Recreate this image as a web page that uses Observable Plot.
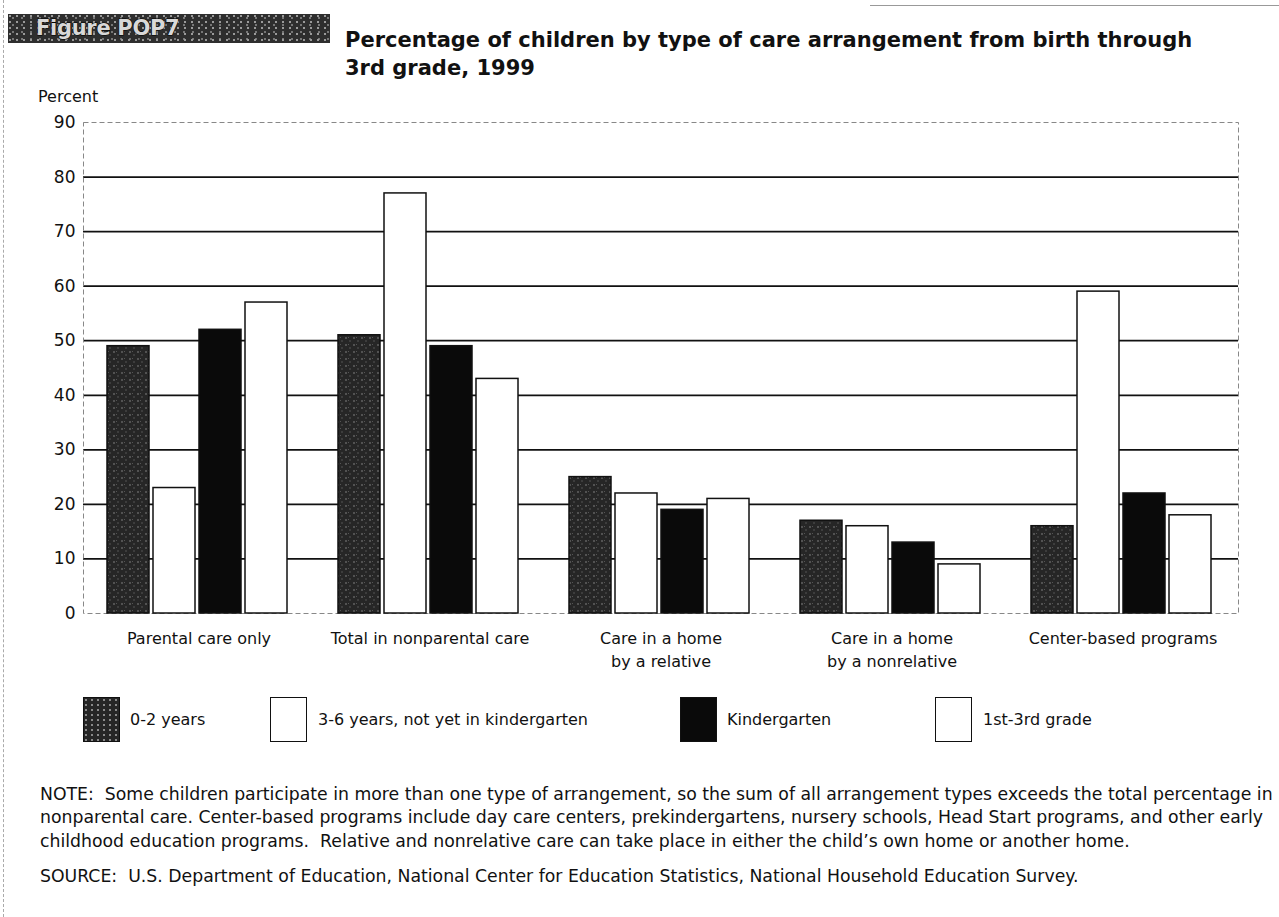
<!DOCTYPE html>
<html>
<head>
<meta charset="utf-8">
<script src="https://cdn.jsdelivr.net/npm/d3@7"></script>
<script src="https://cdn.jsdelivr.net/npm/@observablehq/plot@0.6"></script>
<style>
  body { margin: 0; background: #fff; }
  #wrap { position: relative; width: 1279px; height: 917px; overflow: hidden; font-family: "DejaVu Sans", sans-serif; color: #111; }
  #wrap svg.plot { position: absolute; left: 0; top: 0; }
  .abs { position: absolute; white-space: nowrap; }
  #figbox { left: 8px; top: 14px; width: 322px; height: 29px; background-color: #2e2e2e;
    background-image: radial-gradient(circle at 2px 2px, #9a9a9a 0.8px, transparent 1.3px),
                      radial-gradient(circle at 5px 4px, #777 0.7px, transparent 1.2px);
    background-size: 7px 6px, 9px 7px; }
  #figbox span { position: absolute; left: 28px; top: 2px; font-family: "DejaVu Sans", sans-serif; font-weight: 700; font-size: 21px; line-height: 24px; letter-spacing: -0.3px; color: #d8d8d8;
    -webkit-text-stroke: 1px #000; paint-order: stroke fill; }
  #title { left: 345px; top: 26px; font-family: "DejaVu Sans", sans-serif; font-weight: 700; font-size: 21px; line-height: 28px; }
  #ylab { left: 38px; top: 87px; font-size: 16px; }
  .sw { position: absolute; width: 37px; height: 45px; box-sizing: border-box; border: 1.5px solid #111; }
  .lg { position: absolute; font-size: 16px; line-height: 20px; }
  #note { left: 40px; top: 783px; font-size: 17.3px; line-height: 23.3px; }
  #source { left: 40px; top: 866px; font-size: 17.3px; }
  #edge { left: 3px; top: 0; height: 917px; border-left: 1px dashed #aaa; }
  #topline { left: 870px; top: 5px; width: 409px; border-top: 1px solid #999; }
</style>
</head>
<body>
<div id="wrap">
  <div class="abs" id="edge"></div>
  <div class="abs" id="topline"></div>
  <div class="abs" id="figbox"><span>Figure POP7</span></div>
  <div class="abs" id="title">Percentage of children by type of care arrangement from birth through<br>3rd grade, 1999</div>
  <div class="abs" id="ylab">Percent</div>
  <div id="legend"></div>
  <div class="abs" id="note">NOTE:&nbsp; Some children participate in more than one type of arrangement, so the sum of all arrangement types exceeds the total percentage in<br>nonparental care. Center-based programs include day care centers, prekindergartens, nursery schools, Head Start programs, and other early<br>childhood education programs.&nbsp; Relative and nonrelative care can take place in either the child’s own home or another home.</div>
  <div class="abs" id="source">SOURCE:&nbsp; U.S. Department of Education, National Center for Education Statistics, National Household Education Survey.</div>
</div>
<script>
// ---- Data ----
const categories = [
  "Parental care only",
  "Total in nonparental care",
  "Care in a home by a relative",
  "Care in a home by a nonrelative",
  "Center-based programs"
];
const categoryLabels = [
  "Parental care only",
  "Total in nonparental care",
  "Care in a home\nby a relative",
  "Care in a home\nby a nonrelative",
  "Center-based programs"
];
const groups = ["0-2 years", "3-6 years, not yet in kindergarten", "Kindergarten", "1st-3rd grade"];
const age0to2        = [49, 51, 25, 17, 16];
const age3to6        = [23, 77, 22, 16, 59];
const kindergarten   = [52, 49, 19, 13, 22];
const grade1to3      = [57, 43, 21, 9, 18];
const yTicks = [0, 10, 20, 30, 40, 50, 60, 70, 80, 90];

const series = [age0to2, age3to6, kindergarten, grade1to3];

// ---- Styles ----
const fills = ["url(#speckle)", "#ffffff", "#0a0a0a", "#ffffff"];
const legendX = [83, 270, 680, 935];
const legendTextX = [130, 318, 727, 983];

const W = 1279, mL = 83, mR = 41;
const band = (W - mL - mR) / categories.length;
const barW = 42, step = 46, off = 24;

const labelOf = Object.fromEntries(categories.map((c, i) => [c, categoryLabels[i]]));

const barMarks = series.map((vals, i) =>
  Plot.barY(categories.map((c, j) => ({cat: c, value: vals[j], group: groups[i]})), {
    x: "cat", y: "value",
    fill: fills[i], stroke: "#111", strokeWidth: 1.5,
    insetLeft: off + step * i,
    insetRight: band - (off + step * i + barW)
  })
);

const plot = Plot.plot({
  width: W,
  height: 680,
  marginTop: 122,
  marginBottom: 67,
  marginLeft: mL,
  marginRight: mR,
  style: {fontFamily: "'DejaVu Sans', sans-serif", fontSize: "16px", color: "#111", background: "transparent"},
  x: {domain: categories, padding: 0, label: null},
  y: {domain: [0, 90], label: null},
  marks: [
    Plot.ruleY(yTicks.filter(d => d > 0 && d < 90), {stroke: "#111", strokeWidth: 1.8}),
    Plot.frame({stroke: "#888", strokeDasharray: "5,3", strokeWidth: 1}),
    ...barMarks,
    Plot.axisY({ticks: yTicks, tickSize: 0, tickPadding: 8, fontSize: 17, label: null}),
    Plot.axisX({tickSize: 0, tickPadding: 15, fontSize: 16, label: null, tickFormat: d => labelOf[d], lineHeight: 1.4})
  ]
});

// speckle pattern for the 0-2 years fill
const svg = d3.select(plot);
const defs = svg.insert("defs", ":first-child");
const pat = defs.append("pattern").attr("id", "speckle").attr("patternUnits", "userSpaceOnUse")
  .attr("width", 8).attr("height", 7);
pat.append("rect").attr("width", 8).attr("height", 7).attr("fill", "#262626");
pat.append("circle").attr("cx", 2).attr("cy", 2).attr("r", 0.8).attr("fill", "#8a8a8a");
pat.append("circle").attr("cx", 6).attr("cy", 5).attr("r", 0.7).attr("fill", "#666");
pat.append("rect").attr("x", 4).attr("y", 1).attr("width", 1).attr("height", 1).attr("fill", "#555");

const wrap = document.getElementById("wrap");
wrap.insertBefore(plot, wrap.firstChild);

// legend
const legend = document.getElementById("legend");
groups.forEach((g, i) => {
  const sw = document.createElement("div");
  sw.className = "sw";
  sw.style.left = legendX[i] + "px";
  sw.style.top = "697px";
  if (i === 0) {
    sw.style.backgroundColor = "#262626";
    sw.style.backgroundImage = "radial-gradient(circle at 2px 2px, #8a8a8a 0.8px, transparent 1.3px)";
    sw.style.backgroundSize = "6px 5px";
  } else {
    sw.style.background = fills[i];
  }
  legend.appendChild(sw);
  const t = document.createElement("div");
  t.className = "lg";
  t.style.left = legendTextX[i] + "px";
  t.style.top = "710px";
  t.textContent = g;
  legend.appendChild(t);
});
</script>
</body>
</html>
